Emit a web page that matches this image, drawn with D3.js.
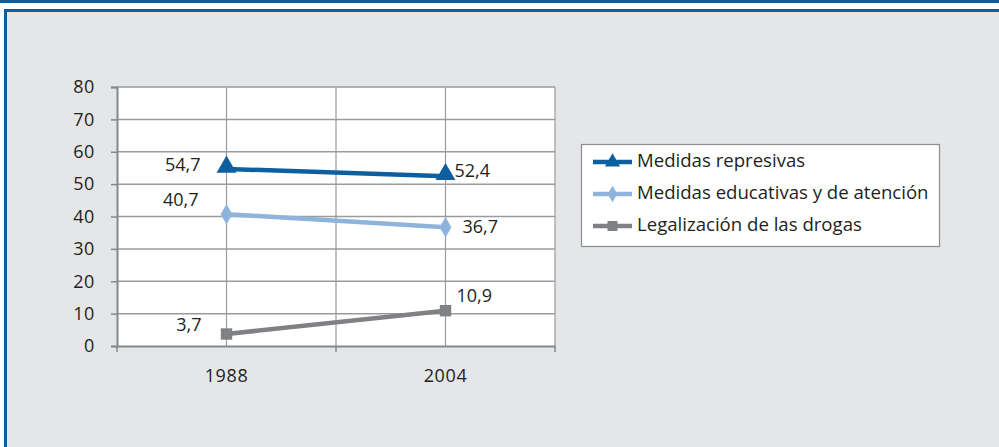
<!DOCTYPE html>
<html><head><meta charset="utf-8">
<script src="https://cdn.jsdelivr.net/npm/d3@7"></script>
<style>html,body{margin:0;padding:0;background:#fff;}svg{display:block;}</style>
</head><body>
<script>
const categories = ["1988", "2004"];
const seriesNames = ["Medidas represivas", "Medidas educativas y de atención", "Legalización de las drogas"];
const represivas = [54.7, 52.4];
const educativas = [40.7, 36.7];
const legalizacion = [3.7, 10.9];
const yTicks = [0, 10, 20, 30, 40, 50, 60, 70, 80];
const colors = ["#0d5f9f", "#8eb4dc", "#808184"];
const symbols = [d3.symbolTriangle, d3.symbolDiamond, d3.symbolSquare];

(function(){
const W = 999, H = 447;
const font = "'Open Sans', sans-serif";
const svg = d3.select("body").append("svg").attr("width", W).attr("height", H);

svg.append("rect").attr("x",0).attr("y",0).attr("width",W).attr("height",H).attr("fill","#fff");
svg.append("rect").attr("x",0).attr("y",0).attr("width",W).attr("height",3).attr("fill","#0d5f9f");
svg.append("rect").attr("x",4).attr("y",9).attr("width",W-4).attr("height",H-9).attr("fill","#e5e6e8");
svg.append("rect").attr("x",4).attr("y",9).attr("width",W-4).attr("height",3).attr("fill","#0d5f9f");
svg.append("rect").attr("x",4).attr("y",9).attr("width",3).attr("height",H-9).attr("fill","#0d5f9f");

const pL = 117, pR = 555, pT = 87, pB = 346;
const x = d3.scaleBand().domain(categories).range([pL, pR]);
const y = d3.scaleLinear().domain([0, 80]).range([pB, pT]);

svg.append("rect").attr("x",pL).attr("y",pT).attr("width",pR-pL).attr("height",pB-pT).attr("fill","#fff");

const gridColor = "#9a9b9d";
svg.append("g").selectAll("line").data(yTicks.filter(d=>d>0)).join("line")
  .attr("x1",pL).attr("x2",pR).attr("y1",d=>y(d)).attr("y2",d=>y(d))
  .attr("stroke",gridColor).attr("stroke-width",1.5);
const vLines = categories.map(c => x(c) + x.bandwidth()/2).concat([x(categories[1]), pR]);
svg.append("g").selectAll("line").data(vLines).join("line")
  .attr("x1",d=>d).attr("x2",d=>d).attr("y1",pT).attr("y2",pB)
  .attr("stroke",gridColor).attr("stroke-width",1.2);

const yAxis = d3.axisLeft(y).tickValues(yTicks).tickSize(6).tickPadding(16);
const gy = svg.append("g").attr("transform",`translate(${pL},0)`).call(yAxis);
gy.select(".domain").attr("stroke","#868789").attr("stroke-width",2);
gy.selectAll(".tick line").attr("stroke","#868789").attr("stroke-width",1.5);
gy.selectAll(".tick text").attr("fill","#231f20").style("font-family",font).style("font-size","18px").style("letter-spacing","0.6px");

const xAxis = d3.axisBottom(x).tickSize(0).tickPadding(23);
const gx = svg.append("g").attr("transform",`translate(0,${pB})`).call(xAxis);
gx.select(".domain").attr("stroke","#868789").attr("stroke-width",2);
gx.selectAll(".tick text").attr("fill","#231f20").style("font-family",font).style("font-size","18px").style("letter-spacing","0.6px");
svg.append("g").selectAll("line").data([pL, x(categories[1]), pR]).join("line")
  .attr("x1",d=>d).attr("x2",d=>d).attr("y1",pB).attr("y2",pB+6)
  .attr("stroke","#868789").attr("stroke-width",1.5);

const data = [represivas, educativas, legalizacion];
const cx = c => x(c) + x.bandwidth()/2;
const line = d3.line().x((d,i)=>cx(categories[i])).y(d=>y(d));
data.forEach((vals, si) => {
  svg.append("path").datum(vals).attr("d", line).attr("fill","none")
    .attr("stroke", colors[si]).attr("stroke-width", 4.5);
  svg.append("g").selectAll("path").data(vals).join("path")
    .attr("transform",(d,i)=>`translate(${cx(categories[i])},${y(d) - (si===0?2:0)})`)
    .attr("d", d3.symbol().type(symbols[si]).size(si===1?120:si===0?170:130))
    .attr("fill", colors[si]);
});

const fmt = v => String(v).replace(".", ",");
const labelOffsets = [
  [[-26, -3, "end"], [9, -4, "start"]],
  [[-28, -13, "end"], [17, 1, "start"]],
  [[-25, -8, "end"], [11, -14, "start"]]
];
data.forEach((vals, si) => {
  svg.append("g").selectAll("text").data(vals).join("text")
    .attr("x",(d,i)=>cx(categories[i]) + labelOffsets[si][i][0])
    .attr("y",(d,i)=>y(d) + labelOffsets[si][i][1])
    .attr("text-anchor",(d,i)=>labelOffsets[si][i][2])
    .attr("dominant-baseline","middle")
    .attr("fill","#231f20").style("font-family",font).style("font-size","18px")
    .text(d=>fmt(d));
});

const lg = svg.append("g");
lg.append("rect").attr("x",581.5).attr("y",144.5).attr("width",358).attr("height",102)
  .attr("fill","#fff").attr("stroke","#8c8d8f").attr("stroke-width",1.2);
seriesNames.forEach((name, i) => {
  const yy = 162 + i*32;
  lg.append("line").attr("x1",593).attr("x2",632).attr("y1",yy).attr("y2",yy)
    .attr("stroke",colors[i]).attr("stroke-width",4.5);
  lg.append("path").attr("transform",`translate(612.5,${yy})`)
    .attr("d", d3.symbol().type(symbols[i]).size(i===1?80:100)).attr("fill",colors[i]);
  lg.append("text").attr("x",637).attr("y",yy).attr("dominant-baseline","middle")
    .attr("fill","#231f20").style("font-family",font).style("font-size","18.6px").text(name);
});
})();
</script>
</body></html>
